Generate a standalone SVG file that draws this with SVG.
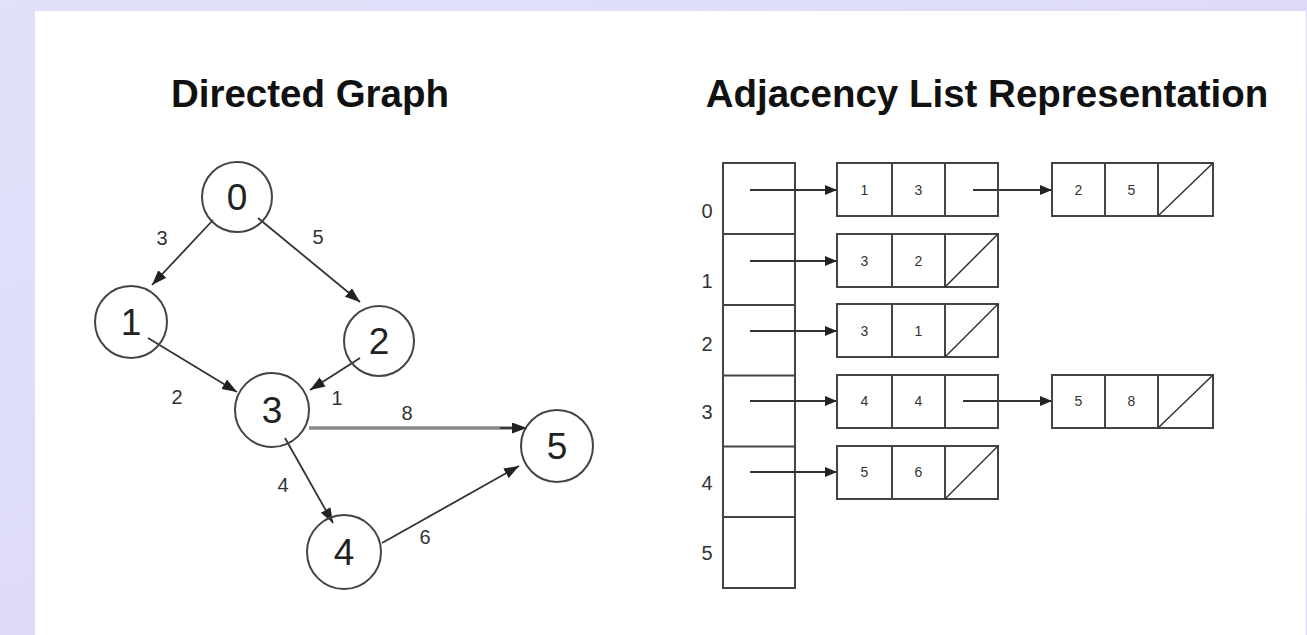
<svg xmlns="http://www.w3.org/2000/svg" width="1307" height="635" viewBox="0 0 1307 635">
<defs>
<linearGradient id="bg" x1="0" y1="0" x2="1" y2="1">
<stop offset="0" stop-color="#E2E1FB"/>
<stop offset="1" stop-color="#D8D5F6"/>
</linearGradient>
<marker id="ga" markerUnits="userSpaceOnUse" markerWidth="16" markerHeight="12" refX="15" refY="5.5" orient="auto">
<path d="M0,0 L15,5.5 L0,11 z" fill="#222"/>
</marker>
<marker id="la" markerUnits="userSpaceOnUse" markerWidth="13" markerHeight="11" refX="12" refY="5" orient="auto">
<path d="M0,0 L12,5 L0,10 z" fill="#222"/>
</marker>
</defs>
<style>
.title{font-family:"Liberation Sans",Arial,sans-serif;font-weight:bold;font-size:38.5px;fill:#111}
.node circle{fill:none;stroke:#444;stroke-width:2}
.nl{font-family:"Liberation Sans",Arial,sans-serif;font-size:37px;fill:#222;text-anchor:middle}
.el{font-family:"Liberation Sans",Arial,sans-serif;font-size:20px;fill:#333;text-anchor:middle}
.edge{stroke:#333;stroke-width:1.8;fill:none;marker-end:url(#ga)}
.larrow{stroke:#333;stroke-width:1.8;fill:none;marker-end:url(#la)}
.box{fill:none;stroke:#444;stroke-width:2}
.cl{font-family:"Liberation Sans",Arial,sans-serif;font-size:14px;fill:#333;text-anchor:middle}
.il{font-family:"Liberation Sans",Arial,sans-serif;font-size:20px;fill:#333;text-anchor:middle}
</style>
<rect x="0" y="0" width="1307" height="635" fill="url(#bg)"/>
<rect x="35" y="11" width="1271" height="624" fill="#fff"/>

<text class="title" x="310" y="107" text-anchor="middle">Directed Graph</text>
<text class="title" x="987" y="107" text-anchor="middle">Adjacency List Representation</text>

<g id="connectors">
<line class="edge" x1="213" y1="220" x2="152" y2="285"/>
<line class="edge" x1="258" y1="218" x2="360" y2="302"/>
<line class="edge" x1="148" y1="338" x2="237" y2="392"/>
<line class="edge" x1="360" y1="358" x2="310" y2="390"/>
<line x1="309" y1="428" x2="515" y2="428" stroke="#888" stroke-width="3.5"/>
<line class="edge" x1="500" y1="428" x2="527" y2="428"/>
<line class="edge" x1="285" y1="438" x2="333" y2="523"/>
<line class="edge" x1="382" y1="543" x2="519" y2="466"/>
<text class="el" x="162" y="245">3</text>
<text class="el" x="318" y="244">5</text>
<text class="el" x="177" y="404">2</text>
<text class="el" x="337" y="405">1</text>
<text class="el" x="407" y="420">8</text>
<text class="el" x="283" y="492">4</text>
<text class="el" x="425" y="544">6</text>
</g>

<g id="node-0" class="node"><circle cx="237" cy="197" r="35"/><text class="nl" x="237" y="210">0</text></g>
<g id="node-1" class="node"><circle cx="131" cy="322" r="36"/><text class="nl" x="131" y="335">1</text></g>
<g id="node-2" class="node"><circle cx="379" cy="341" r="35"/><text class="nl" x="379" y="354">2</text></g>
<g id="node-3" class="node"><circle cx="272" cy="410" r="37"/><text class="nl" x="272" y="423">3</text></g>
<g id="node-4" class="node"><circle cx="344" cy="552" r="37"/><text class="nl" x="344" y="565">4</text></g>
<g id="node-5" class="node"><circle cx="557" cy="446" r="36"/><text class="nl" x="557" y="459">5</text></g>

<g id="index-array">
<rect class="box" x="723" y="163" width="72" height="425"/>
<line class="box" x1="723" y1="234" x2="795" y2="234"/>
<line class="box" x1="723" y1="305" x2="795" y2="305"/>
<line class="box" x1="723" y1="375.5" x2="795" y2="375.5"/>
<line class="box" x1="723" y1="446.5" x2="795" y2="446.5"/>
<line class="box" x1="723" y1="517" x2="795" y2="517"/>
<text class="il" x="707" y="218">0</text>
<text class="il" x="707" y="288">1</text>
<text class="il" x="707" y="351">2</text>
<text class="il" x="707" y="419">3</text>
<text class="il" x="707" y="490">4</text>
<text class="il" x="707" y="560">5</text>
</g>

<g id="list-connectors">
<line class="larrow" x1="750" y1="190" x2="837" y2="190"/>
<line class="larrow" x1="750" y1="261" x2="837" y2="261"/>
<line class="larrow" x1="750" y1="331" x2="837" y2="331"/>
<line class="larrow" x1="750" y1="401" x2="837" y2="401"/>
<line class="larrow" x1="750" y1="472" x2="837" y2="472"/>
<line class="larrow" x1="973" y1="190" x2="1052" y2="190"/>
<line class="larrow" x1="963" y1="401" x2="1052" y2="401"/>
</g>

<g id="list-0a">
<rect class="box" x="837" y="163" width="161" height="53"/>
<line class="box" x1="892" y1="163" x2="892" y2="216"/><line class="box" x1="945" y1="163" x2="945" y2="216"/>
<text class="cl" x="864.5" y="195">1</text><text class="cl" x="918.5" y="195">3</text>
</g>
<g id="list-0b">
<rect class="box" x="1052" y="163" width="161" height="53"/>
<line class="box" x1="1105" y1="163" x2="1105" y2="216"/><line class="box" x1="1158" y1="163" x2="1158" y2="216"/>
<line x1="1158" y1="216" x2="1213" y2="163" stroke="#333" stroke-width="1.5"/>
<text class="cl" x="1078.5" y="195">2</text><text class="cl" x="1131.5" y="195">5</text>
</g>
<g id="list-1a">
<rect class="box" x="837" y="234" width="161" height="53"/>
<line class="box" x1="892" y1="234" x2="892" y2="287"/><line class="box" x1="945" y1="234" x2="945" y2="287"/>
<line x1="945" y1="287" x2="998" y2="234" stroke="#333" stroke-width="1.5"/>
<text class="cl" x="864.5" y="266">3</text><text class="cl" x="918.5" y="266">2</text>
</g>
<g id="list-2a">
<rect class="box" x="837" y="304" width="161" height="53"/>
<line class="box" x1="892" y1="304" x2="892" y2="357"/><line class="box" x1="945" y1="304" x2="945" y2="357"/>
<line x1="945" y1="357" x2="998" y2="304" stroke="#333" stroke-width="1.5"/>
<text class="cl" x="864.5" y="336">3</text><text class="cl" x="918.5" y="336">1</text>
</g>
<g id="list-3a">
<rect class="box" x="837" y="375" width="161" height="53"/>
<line class="box" x1="892" y1="375" x2="892" y2="428"/><line class="box" x1="945" y1="375" x2="945" y2="428"/>
<text class="cl" x="864.5" y="406">4</text><text class="cl" x="918.5" y="406">4</text>
</g>
<g id="list-3b">
<rect class="box" x="1052" y="375" width="161" height="53"/>
<line class="box" x1="1105" y1="375" x2="1105" y2="428"/><line class="box" x1="1158" y1="375" x2="1158" y2="428"/>
<line x1="1158" y1="428" x2="1213" y2="375" stroke="#333" stroke-width="1.5"/>
<text class="cl" x="1078.5" y="406">5</text><text class="cl" x="1131.5" y="406">8</text>
</g>
<g id="list-4a">
<rect class="box" x="837" y="446" width="161" height="53"/>
<line class="box" x1="892" y1="446" x2="892" y2="499"/><line class="box" x1="945" y1="446" x2="945" y2="499"/>
<line x1="945" y1="499" x2="998" y2="446" stroke="#333" stroke-width="1.5"/>
<text class="cl" x="864.5" y="477">5</text><text class="cl" x="918.5" y="477">6</text>
</g>
</svg>
